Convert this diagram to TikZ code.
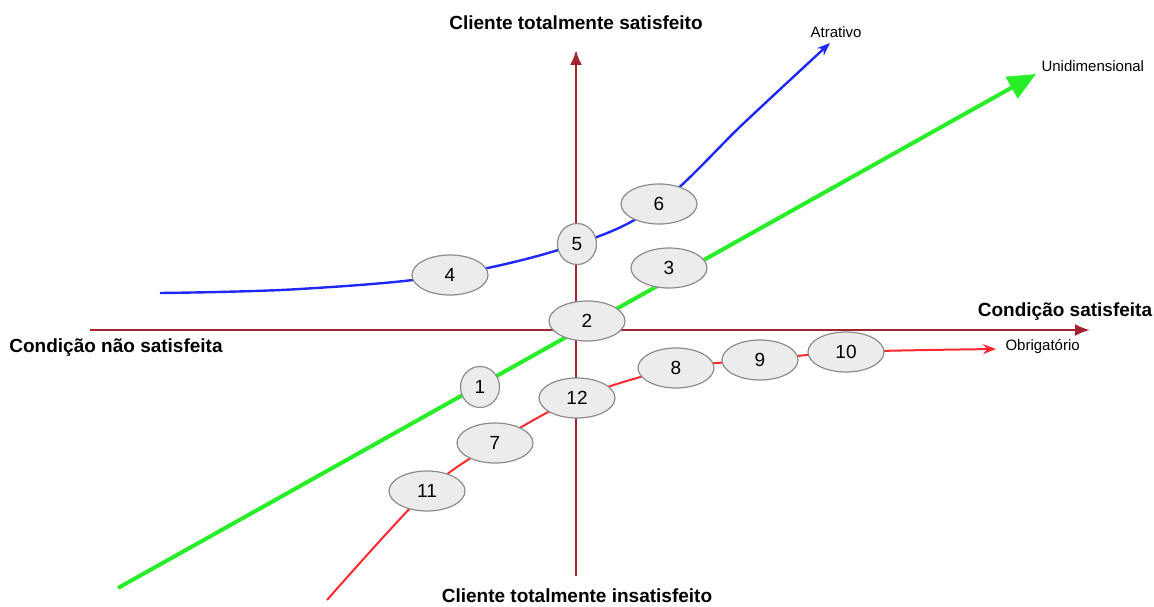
\documentclass[tikz,border=0pt]{standalone}
\usepackage{fontspec}
\setmainfont{Liberation Sans}
\usetikzlibrary{arrows.meta,positioning,backgrounds,shapes.geometric}

\definecolor{axisred}{RGB}{163,36,46}
\definecolor{curvegreen}{RGB}{40,238,40}
\definecolor{curveblue}{RGB}{30,40,250}
\definecolor{curvered}{RGB}{255,40,45}
\definecolor{statefill}{RGB}{236,236,236}
\definecolor{stateline}{RGB}{140,140,140}

\begin{document}
\begin{tikzpicture}[x=1pt, y=-1pt, >=Latex,
  every node/.style={font=\fontsize{15}{17}\selectfont},
  state/.style={draw=stateline, line width=1.2pt, fill=statefill, ellipse, inner sep=0pt,
    minimum width=76pt, minimum height=40pt, font=\fontsize{19}{21}\selectfont},
  smallstate/.style={state, minimum width=39pt, minimum height=41pt},
  axislabel/.style={font=\bfseries\fontsize{19}{21}\selectfont}]

  \useasboundingbox (0,0) rectangle (1154,607);

  % Axes
  \coordinate (hleft) at (90,330);
  \coordinate (hright) at (1090,330);
  \coordinate (vbot) at (576,576);
  \coordinate (vtop) at (576,50);
  \draw[axisred, line width=2.4pt, -{Latex[length=15pt,width=12pt]}] (hleft) -- (hright);
  \draw[axisred, line width=2.4pt, -{Latex[length=15pt,width=12pt]}] (vbot) -- (vtop);

  \node[axislabel] (sat) at (576,23) {Cliente totalmente satisfeito};
  \node[axislabel] (insat) at (577,596) {Cliente totalmente insatisfeito};
  \node[axislabel] (csat) at (1065,312) {Condição satisfeita};
  \node[axislabel] (cnsat) at (116,348) {Condição não satisfeita};

  % States
  \node[smallstate] (e1) at (480,387) {1};
  \node[state] (e2) at (587,321) {2};
  \node[state] (e3) at (669,268) {3};
  \node[state] (e4) at (450,275) {4};
  \node[smallstate] (e5) at (577,244) {5};
  \node[state] (e6) at (659,204) {6};
  \node[state] (e7) at (495,443) {7};
  \node[state] (e8) at (676,368) {8};
  \node[state] (e9) at (760,360) {9};
  \node[state] (e10) at (846,352) {10};
  \node[state] (e11) at (427,491) {11};
  \node[state] (e12) at (577,398) {12};

  % Curves
  \coordinate (g0) at (118,588);
  \coordinate (g1) at (1036,74);
  \coordinate (b0) at (160,293);
  \coordinate (b1) at (830,43);
  \coordinate (r0) at (327,600);
  \coordinate (r1) at (996,349);

  \node[right=2pt of g1, yshift=8pt] (uni) {Unidimensional};
  \node[above=2pt of b1, xshift=6pt] (atr) {Atrativo};
  \node[right=6pt of r1, yshift=2pt] (obr) {Obrigatório};

  \begin{pgfonlayer}{background}
    \draw[curvegreen, line width=4pt, -{Triangle[length=28pt,width=24pt]}] (g0) -- (g1);
    \draw[curveblue, line width=2.4pt, -{Stealth[length=13pt,width=10pt]}]
      plot[smooth, tension=0.6] coordinates {(b0) (300,289) (e4.center) (e5.center) (e6.center) (745,122) (b1)};
    \draw[curvered, line width=2pt, -{Stealth[length=13pt,width=10pt]}]
      plot[smooth, tension=0.5] coordinates {(r0) (e11.center) (e7.center) (e12.center) (e8.center) (e9.center) (e10.center) (r1)};
  \end{pgfonlayer}

\end{tikzpicture}
\end{document}
